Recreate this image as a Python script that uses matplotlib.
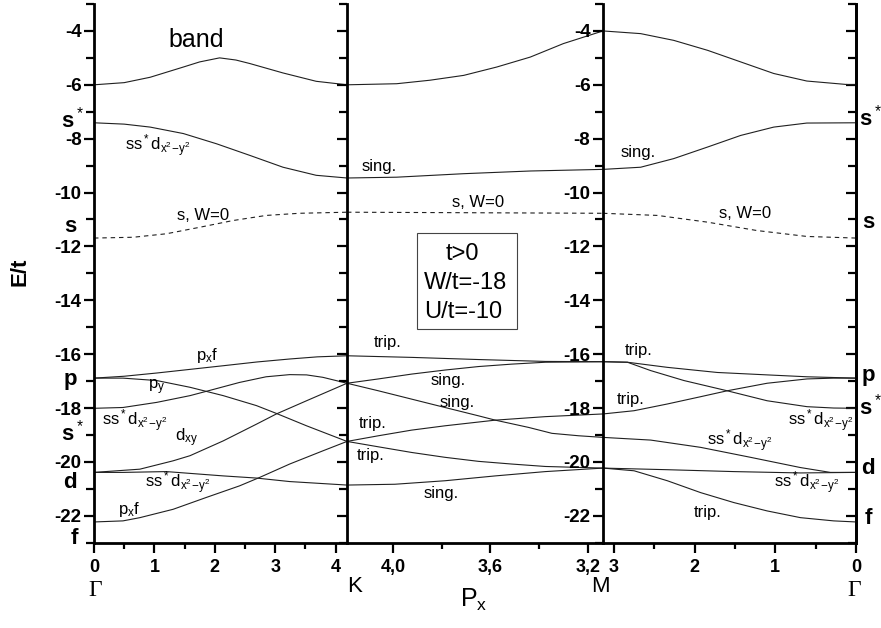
import numpy as np
import matplotlib
matplotlib.use('Agg')
import matplotlib.pyplot as plt
from matplotlib.ticker import MultipleLocator, FixedLocator, FixedFormatter

plt.rcParams['font.family'] = ['Liberation Sans', 'DejaVu Sans']
plt.rcParams['mathtext.fontset'] = 'custom'
plt.rcParams['mathtext.rm'] = 'Liberation Sans'
plt.rcParams['mathtext.it'] = 'Liberation Sans:italic'
plt.rcParams['axes.unicode_minus'] = False

K_PT = 4.19   # 4*pi/3
M_PT = 3.137  # pi

# ---- Gamma -> K ----
gk_top_x = [0, 0.5, 0.93, 1.48, 1.75, 2.08, 2.35, 2.58, 3.13, 3.68, K_PT]
gk_top_y = [-6.0, -5.92, -5.72, -5.34, -5.15, -5.0, -5.08, -5.21, -5.56, -5.87, -6.0]
gk_ssd_x = [0, 0.5, 0.93, 1.48, 2.03, 2.58, 3.13, 3.68, K_PT]
gk_ssd_y = [-7.41, -7.46, -7.57, -7.81, -8.19, -8.62, -9.06, -9.36, -9.46]
gk_w0_x = [0, 0.65, 1.2, 1.75, 2.3, 2.85, 3.4, K_PT]
gk_w0_y = [-11.69, -11.66, -11.53, -11.29, -11.04, -10.85, -10.77, -10.73]
gk_a_x = [0, 0.5, 1.04, 2.14, 2.7, 3.24, 3.7, K_PT]
gk_a_y = [-16.89, -16.82, -16.70, -16.43, -16.29, -16.18, -16.1, -16.06]
gk_b_x = [0, 0.48, 1.04, 1.59, 2.14, 2.69, 3.02, 3.52, K_PT]
gk_b_y = [-16.89, -16.89, -16.98, -17.23, -17.54, -17.91, -18.20, -18.66, -19.24]
gk_c_x = [0, 0.48, 1.04, 1.59, 1.86, 2.41, 2.85, 3.24, 3.52, 3.79, K_PT]
gk_c_y = [-18.01, -17.98, -17.79, -17.54, -17.38, -17.05, -16.84, -16.76, -16.77, -16.86, -17.08]
gk_d_x = [0, 0.76, 1.31, 1.59, 2.14, 2.69, 3.02, 3.52, K_PT]
gk_d_y = [-20.39, -20.27, -19.96, -19.77, -19.22, -18.60, -18.22, -17.73, -17.08]
gk_e_x = [0, 0.48, 1.2, 2.14, 2.69, 3.24, K_PT]
gk_e_y = [-20.39, -20.39, -20.36, -20.52, -20.60, -20.73, -20.86]
gk_f_x = [0, 0.48, 0.76, 1.31, 1.86, 2.41, 2.74, 3.24, 3.79, K_PT]
gk_f_y = [-22.23, -22.19, -22.07, -21.76, -21.32, -20.89, -20.58, -20.08, -19.59, -19.24]

# ---- K -> M ----
km_top_x = [K_PT, 3.986, 3.849, 3.71, 3.574, 3.436, 3.30, M_PT]
km_top_y = [-6.0, -5.96, -5.83, -5.65, -5.34, -4.97, -4.47, -4.0]
km_sing_x = [K_PT, 3.986, 3.71, 3.436, M_PT]
km_sing_y = [-9.46, -9.43, -9.30, -9.20, -9.14]
km_w0_x = [K_PT, M_PT]
km_w0_y = [-10.73, -10.77]
km_g_x = [K_PT, 3.924, 3.649, 3.374, M_PT]
km_g_y = [-16.06, -16.12, -16.20, -16.27, -16.28]
km_h_x = [K_PT, 4.061, 3.924, 3.787, 3.649, 3.512, 3.374, M_PT]
km_h_y = [-17.08, -16.92, -16.74, -16.59, -16.46, -16.37, -16.30, -16.28]
km_i_x = [K_PT, 4.061, 3.924, 3.787, 3.649, 3.580, 3.443, 3.347, 3.237, M_PT]
km_i_y = [-17.08, -17.36, -17.67, -17.98, -18.29, -18.45, -18.72, -18.94, -19.03, -19.09]
km_j_x = [K_PT, 4.061, 3.924, 3.787, 3.580, 3.374, M_PT]
km_j_y = [-19.24, -19.03, -18.82, -18.66, -18.45, -18.32, -18.22]
km_k_x = [K_PT, 4.061, 3.924, 3.787, 3.649, 3.512, 3.374, M_PT]
km_k_y = [-19.24, -19.44, -19.65, -19.83, -19.98, -20.08, -20.17, -20.23]
km_l_x = [K_PT, 3.993, 3.787, 3.580, 3.374, M_PT]
km_l_y = [-20.86, -20.83, -20.70, -20.52, -20.36, -20.23]

# ---- M -> Gamma ----
mg_top_x = [M_PT, 2.67, 2.26, 1.84, 1.43, 1.02, 0.61, 0.11, 0]
mg_top_y = [-4.0, -4.1, -4.35, -4.72, -5.15, -5.58, -5.86, -5.99, -6.0]
mg_sing_x = [M_PT, 2.67, 2.26, 1.84, 1.43, 1.02, 0.61, 0]
mg_sing_y = [-9.14, -9.06, -8.74, -8.31, -7.88, -7.57, -7.42, -7.41]
mg_w0_x = [M_PT, 2.46, 1.84, 1.23, 0.61, 0]
mg_w0_y = [-10.77, -10.85, -11.1, -11.41, -11.63, -11.69]
mg_1_x = [M_PT, 2.834, 2.339, 1.72, 1.10, 0.607, 0]
mg_1_y = [-16.28, -16.30, -16.49, -16.68, -16.77, -16.84, -16.89]
mg_2_x = [M_PT, 2.834, 2.546, 2.133, 1.597, 1.102, 0.607, 0.277, 0]
mg_2_y = [-16.28, -16.30, -16.61, -16.98, -17.36, -17.73, -17.95, -18.00, -18.01]
mg_3_x = [M_PT, 2.752, 2.339, 1.927, 1.597, 1.102, 0.607, 0.277, 0]
mg_3_y = [-18.22, -18.10, -17.85, -17.58, -17.36, -17.08, -16.92, -16.89, -16.89]
mg_4_x = [M_PT, 2.546, 1.927, 1.308, 0.689, 0.318, 0]
mg_4_y = [-19.09, -19.19, -19.46, -19.83, -20.21, -20.39, -20.39]
mg_5_x = [M_PT, 2.339, 1.515, 0.689, 0]
mg_5_y = [-20.23, -20.29, -20.36, -20.41, -20.39]
mg_6_x = [M_PT, 2.752, 2.339, 1.927, 1.515, 1.102, 0.689, 0.277, 0]
mg_6_y = [-20.23, -20.33, -20.70, -21.14, -21.51, -21.82, -22.07, -22.19, -22.23]

y_ticks = [-4, -6, -8, -10, -12, -14, -16, -18, -20, -22]
km_ticks = [4.0, 3.6, 3.2]
km_labels = ['4,0', '3,6', '3,2']

SSD = r'ss$^*$d$_{\mathregular{x^2\!-\!y^2}}$'

W, H = 881, 628
fig = plt.figure(figsize=(W / 100, H / 100), dpi=100)

def fx(px):
    return px / W

def fy(py):
    return 1 - py / H

bottom = fy(542.7)
height = (542.7 - 4) / H
ax1 = fig.add_axes([fx(94), bottom, fx(347 - 94), height])
ax2 = fig.add_axes([fx(347), bottom, fx(603 - 347), height])
ax3 = fig.add_axes([fx(603), bottom, fx(856 - 603), height])

lc = '#202020'
lw = 0.8

def band(ax, x, y, dashed=False):
    if dashed:
        ax.plot(x, y, color=lc, lw=lw, dashes=(4, 3.5))
    else:
        ax.plot(x, y, color=lc, lw=lw)

for x, y in [(gk_top_x, gk_top_y), (gk_ssd_x, gk_ssd_y), (gk_a_x, gk_a_y),
             (gk_b_x, gk_b_y), (gk_c_x, gk_c_y), (gk_d_x, gk_d_y),
             (gk_e_x, gk_e_y), (gk_f_x, gk_f_y)]:
    band(ax1, x, y)
band(ax1, gk_w0_x, gk_w0_y, dashed=True)

for x, y in [(km_top_x, km_top_y), (km_sing_x, km_sing_y), (km_g_x, km_g_y),
             (km_h_x, km_h_y), (km_i_x, km_i_y), (km_j_x, km_j_y),
             (km_k_x, km_k_y), (km_l_x, km_l_y)]:
    band(ax2, x, y)
band(ax2, km_w0_x, km_w0_y, dashed=True)

for x, y in [(mg_top_x, mg_top_y), (mg_sing_x, mg_sing_y), (mg_1_x, mg_1_y),
             (mg_2_x, mg_2_y), (mg_3_x, mg_3_y), (mg_4_x, mg_4_y),
             (mg_5_x, mg_5_y), (mg_6_x, mg_6_y)]:
    band(ax3, x, y)
band(ax3, mg_w0_x, mg_w0_y, dashed=True)

ax1.set_xlim(0, K_PT)
ax2.set_xlim(K_PT, M_PT)
ax3.set_xlim(M_PT, 0)

ax1.set_xticks([0, 1, 2, 3, 4])
ax1.xaxis.set_minor_locator(FixedLocator([0.5, 1.5, 2.5, 3.5]))
ax2.xaxis.set_major_locator(FixedLocator(km_ticks))
ax2.xaxis.set_major_formatter(FixedFormatter(km_labels))
ax2.xaxis.set_minor_locator(FixedLocator([3.8, 3.4]))
ax3.set_xticks([3, 2, 1, 0])
ax3.xaxis.set_minor_locator(FixedLocator([2.5, 1.5, 0.5]))

for ax in (ax1, ax2, ax3):
    ax.set_ylim(-23, -3)
    ax.spines['top'].set_visible(False)
    ax.spines['right'].set_visible(False)
    for s in ('left', 'bottom'):
        ax.spines[s].set_linewidth(2.0)
    ax.set_yticks(y_ticks)
    ax.yaxis.set_minor_locator(MultipleLocator(1))
    ax.tick_params(axis='both', which='major', direction='out', width=1.6, length=7)
    ax.tick_params(axis='both', which='minor', direction='out', width=1.6, length=4)
    ax.tick_params(axis='y', which='minor', length=6)
    ax.tick_params(axis='x', labelsize=13, pad=5)
    ax.tick_params(axis='y', labelsize=13.5, pad=2)
    for lab in ax.get_xticklabels() + ax.get_yticklabels():
        lab.set_fontweight('bold')
    ax.patch.set_alpha(0)

ax2.tick_params(axis='y', labelleft=False)

ax3.spines['right'].set_visible(True)
ax3.spines['right'].set_linewidth(2.0)
sec = ax3.secondary_yaxis('right')
sec.set_yticks(y_ticks)
sec.yaxis.set_minor_locator(MultipleLocator(1))
sec.tick_params(which='both', direction='in', width=1.6, labelright=False)
sec.tick_params(which='major', length=7)
sec.tick_params(which='minor', length=6)
sec.spines['right'].set_linewidth(2.0)

# annotations
fs = 12
ax1.text(1.70, -4.35, 'band', fontsize=18, ha='center', va='center')
ax1.text(0.51, -8.25, SSD, fontsize=fs, va='center')
ax1.text(1.37, -10.85, 's, W=0', fontsize=fs, va='center')
ax1.text(1.69, -16.06, r'p$_\mathregular{x}$f', fontsize=fs, va='center')
ax1.text(0.89, -17.22, r'p$_\mathregular{y}$', fontsize=fs, va='center')
ax1.text(0.13, -18.47, SSD, fontsize=fs, va='center')
ax1.text(1.34, -19.09, r'd$_\mathregular{xy}$', fontsize=fs, va='center')
ax1.text(0.84, -20.76, SSD, fontsize=fs, va='center')
ax1.text(0.40, -21.75, r'p$_\mathregular{x}$f', fontsize=fs, va='center')

ax2.text(4.13, -9.02, 'sing.', fontsize=fs, va='center')
ax2.text(3.758, -10.36, 's, W=0', fontsize=fs, va='center')
ax2.text(4.08, -15.56, 'trip.', fontsize=fs, va='center')
ax2.text(3.845, -16.96, 'sing.', fontsize=fs, va='center')
ax2.text(3.81, -17.79, 'sing.', fontsize=fs, va='center')
ax2.text(4.14, -18.59, 'trip.', fontsize=fs, va='center')
ax2.text(4.15, -19.77, 'trip.', fontsize=fs, va='center')
ax2.text(3.877, -21.17, 'sing.', fontsize=fs, va='center')

ax3.text(2.92, -8.5, 'sing.', fontsize=fs, va='center')
ax3.text(1.70, -10.79, 's, W=0', fontsize=fs, va='center')
ax3.text(2.87, -15.87, 'trip.', fontsize=fs, va='center')
ax3.text(2.97, -17.70, 'trip.', fontsize=fs, va='center')
ax3.text(0.84, -18.47, SSD, fontsize=fs, va='center')
ax3.text(1.85, -19.22, SSD, fontsize=fs, va='center')
ax3.text(1.02, -20.76, SSD, fontsize=fs, va='center')
ax3.text(2.01, -21.88, 'trip.', fontsize=fs, va='center')

# parameter box
fig.patches.append(plt.Rectangle((fx(417), fy(329)), fx(100), (329 - 233) / H,
                                 transform=fig.transFigure, fill=False,
                                 edgecolor='#444444', lw=0.8))
fig.text(fx(462), fy(254), 't>0', fontsize=17, ha='center', va='center')
fig.text(fx(466), fy(283), 'W/t=-18', fontsize=17, ha='center', va='center')
fig.text(fx(463), fy(312), 'U/t=-10', fontsize=17, ha='center', va='center')

# orbital letters at the Gamma points
bfs = 16
for txt, px, py in [(r's$^*$', 72, 120), ('s', 70, 227), ('p', 70, 380),
                    (r's$^*$', 72, 433), ('d', 70, 482), ('f', 74, 539)]:
    fig.text(fx(px), fy(py), txt, fontsize=bfs, fontweight='bold',
             ha='center', va='center')
for txt, px, py in [(r's$^*$', 870, 118), ('s', 868, 223), ('p', 868, 375),
                    (r's$^*$', 870, 407), ('d', 868, 468), ('f', 868, 518)]:
    fig.text(fx(px), fy(py), txt, fontsize=bfs, fontweight='bold',
             ha='center', va='center')

# high-symmetry points and axis labels
fig.text(fx(95), fy(591), '\u0393', fontsize=17, ha='center', va='center',
         family='Liberation Serif')
fig.text(fx(854), fy(591), '\u0393', fontsize=17, ha='center', va='center',
         family='Liberation Serif')
fig.text(fx(355), fy(586), 'K', fontsize=16, ha='center', va='center')
fig.text(fx(600), fy(586), 'M', fontsize=16, ha='center', va='center')
fig.text(fx(474), fy(600), r'P$_\mathregular{x}$', fontsize=18, ha='center', va='center')
fig.text(fx(20), fy(272), 'E/t', fontsize=16, fontweight='bold', rotation=90,
         ha='center', va='center')

fig.savefig('out.png', dpi=100)
